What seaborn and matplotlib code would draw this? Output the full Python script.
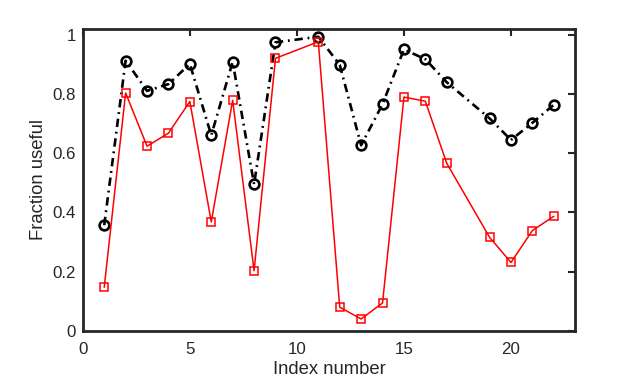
import matplotlib
matplotlib.use("Agg")
import matplotlib.pyplot as plt
import seaborn as sns
import pandas as pd

sns.set_style("white")
plt.rcParams["font.family"] = ["Liberation Sans", "DejaVu Sans"]

# data
index_number = [1, 2, 3, 4, 5, 6, 7, 8, 9, 11, 12, 13, 14, 15, 16, 17, 19, 20, 21, 22]
frac_black = [0.357, 0.913, 0.811, 0.834, 0.902, 0.661, 0.909, 0.495, 0.975, 0.994,
              0.899, 0.627, 0.766, 0.951, 0.918, 0.840, 0.718, 0.645, 0.703, 0.764]
frac_red = [0.147, 0.804, 0.624, 0.668, 0.775, 0.368, 0.779, 0.203, 0.921, 0.977,
            0.080, 0.040, 0.094, 0.790, 0.776, 0.566, 0.316, 0.231, 0.339, 0.387]

df = pd.DataFrame({"idx": index_number, "black": frac_black, "red": frac_red})

fig = plt.figure(figsize=(6.37, 3.82), dpi=100)
ax = fig.add_axes([0.130, 0.134, 0.773, 0.790])

sns.lineplot(data=df, x="idx", y="black", ax=ax, color="black",
             linestyle=(0, (3.2, 1.8, 0.7, 1.8)),
             linewidth=1.9, marker="o", markersize=7, markerfacecolor="none",
             markeredgecolor="black", markeredgewidth=1.9)
sns.lineplot(data=df, x="idx", y="red", ax=ax, color="red", linestyle="-",
             linewidth=1.1, marker="s", markersize=6, markerfacecolor="none",
             markeredgecolor="red", markeredgewidth=1.1)

ax.set_xlim(0, 23)
ax.set_ylim(0, 1.02)
ax.set_xticks([0, 5, 10, 15, 20])
ax.set_yticks([0, 0.2, 0.4, 0.6, 0.8, 1])
ax.set_yticklabels(["0", "0.2", "0.4", "0.6", "0.8", "1"])
ax.tick_params(direction="in", top=True, right=True, length=5, width=1.5,
               labelsize=12.2, colors="#262626")
ax.tick_params(axis="x", pad=8)
ax.tick_params(axis="y", pad=5)
for s in ax.spines.values():
    s.set_linewidth(2)
    s.set_color("#262626")
ax.set_xlabel("Index number", fontsize=13.3, color="#262626", labelpad=3)
ax.set_ylabel("Fraction useful", fontsize=13.3, color="#262626", labelpad=4)

plt.savefig("out.png", dpi=100)
